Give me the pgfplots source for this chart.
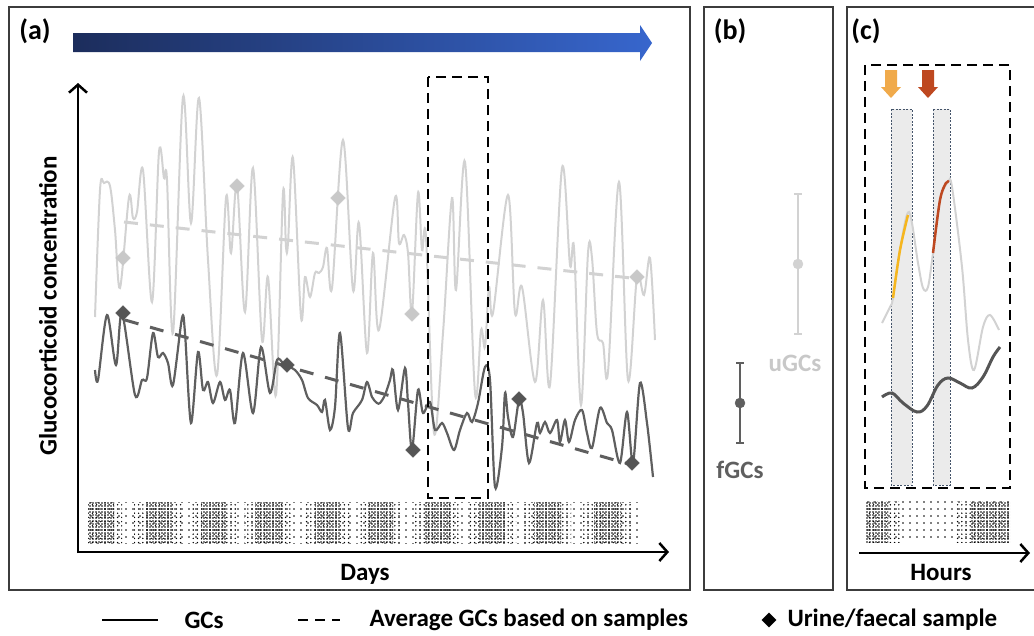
\documentclass[border=0pt]{standalone}
\usepackage{pgfplots}
\pgfplotsset{compat=1.18}
\usepackage{fontspec}
\setmainfont{Carlito}
\usetikzlibrary{patterns.meta,arrows.meta}
\definecolor{lg}{RGB}{210,210,210}
\definecolor{lgd}{RGB}{200,200,200}
\definecolor{dg}{RGB}{95,95,95}
\definecolor{dgd}{RGB}{85,85,85}
\definecolor{navyA}{RGB}{28,45,92}
\definecolor{blueB}{RGB}{55,102,205}
\definecolor{orA}{RGB}{240,170,75}
\definecolor{rdA}{RGB}{190,72,32}
\definecolor{orL}{RGB}{246,182,30}
\definecolor{frm}{RGB}{60,60,60}
\definecolor{shg}{RGB}{235,235,235}
\definecolor{slate}{RGB}{68,84,106}
\tikzset{lab/.style={font=\fontsize{25}{29}\selectfont\bfseries},
  plab/.style={font=\fontsize{28}{32}\selectfont\bfseries},
  sparse/.style={pattern={Dots[radius=0.8pt,distance=7pt]},pattern color=black},
  med/.style={pattern={Dots[radius=0.8pt,distance=4.2pt]},pattern color=black},
  dense/.style={pattern={Dots[radius=0.8pt,distance=3pt]},pattern color=black}}
\newcommand\blk[3]{\fill[#1] (axis cs:#2,502) rectangle (axis cs:#3,543);}
\begin{document}
\begin{tikzpicture}
\begin{axis}[at={(0,0)},anchor=south west,width=1034pt,height=635pt,scale only axis,
  xmin=0,xmax=1034,ymin=0,ymax=635,y dir=reverse,hide axis,clip=true]
\coordinate (SW) at (axis cs:0,635);
\coordinate (NE) at (axis cs:1034,0);
% panel frames
\draw[frm,line width=1.2pt] (axis cs:9,7) rectangle (axis cs:690,590);
\draw[frm,line width=1.2pt] (axis cs:704,7) rectangle (axis cs:833,590);
\draw[frm,line width=1.2pt] (axis cs:1034,7) -- (axis cs:847,7) -- (axis cs:847,590) -- (axis cs:1034,590);
% gradient arrow
\shade[left color=navyA,right color=blueB] (axis cs:73,33) -- (axis cs:640,33) -- (axis cs:640,25) -- (axis cs:652,43) -- (axis cs:640,61) -- (axis cs:640,52) -- (axis cs:73,52) -- cycle;
% labels
\node[plab] at (axis cs:35,31) {(a)};
\node[plab] at (axis cs:730,31) {(b)};
\node[plab] at (axis cs:866,31) {(c)};
\node[lab,rotate=90] at (axis cs:48,306) {Glucocorticoid concentration};
\node[lab] at (axis cs:365,574) {Days};
\node[lab] at (axis cs:941,572) {Hours};
% stipple bands (a)
\blk{sparse}{88}{638}
\blk{med}{88}{122}\blk{med}{134}{183}\blk{med}{192}{236}\blk{med}{244}{292}\blk{med}{304}{351}
\blk{med}{359}{402}\blk{med}{413}{461}\blk{med}{468}{516}\blk{med}{523}{571}\blk{med}{583}{631}
\blk{dense}{88}{114}\blk{dense}{145}{173}\blk{dense}{201}{227}\blk{dense}{255}{283}\blk{dense}{315}{341}
\blk{dense}{368}{393}\blk{dense}{424}{451}\blk{dense}{479}{506}\blk{dense}{534}{561}\blk{dense}{594}{621}
% stipple band (c)
\fill[sparse] (axis cs:866,501) rectangle (axis cs:1010,542);
\fill[med] (axis cs:866,501) rectangle (axis cs:900,542);
\fill[dense] (axis cs:866,501) rectangle (axis cs:888,542);
\fill[med] (axis cs:955,501) rectangle (axis cs:1010,542);
\fill[dense] (axis cs:970,501) rectangle (axis cs:1010,542);
% axes arrows
\draw[line width=2.5pt,-{Straight Barb[length=8pt,width=18pt,line width=2.5pt]}] (axis cs:78,553) -- (axis cs:78,83);
\draw[line width=2.5pt,-{Straight Barb[length=8pt,width=18pt,line width=2.5pt]}] (axis cs:77,552) -- (axis cs:669,552);
\draw[line width=2.5pt,-{Straight Barb[length=8pt,width=18pt,line width=2.5pt]}] (axis cs:859,553) -- (axis cs:1030,553);
% light GCs (a)
\addplot[lg,line width=2pt,smooth,tension=0.55] coordinates {
(95,317)(100,190)(104,183)(110,186)(115,230)(120,288)(129,197)(133,218)(137,212)(143,170)(152,302)(159,152)(164,178)(167,180)(173,333)(183,97)(191,223)(199,98)(208,260)(217,375)(226,198)(231,253)(237,185)(245,312)(253,168)(262,340)(268,277)(276,395)(283,193)(286,247)(288,243)(293,158)(301,317)(305,277)(310,297)(315,273)(319,273)(323,267)(327,248)(332,288)(343,140)(353,290)(359,223)(367,353)(373,253)(379,330)(395,198)(399,243)(404,235)(408,253)(412,313)(418,193)(422,250)(426,237)(434,433)(443,333)(452,198)(456,290)(465,162)(475,393)(481,330)(485,347)(489,287)(493,313)(508,195)(515,313)(522,287)(535,382)(543,300)(550,385)(562,168)(570,265)(574,248)(581,405)(588,253)(592,258)(597,333)(603,343)(608,372)(619,182)(628,380)(637,277)(644,295)(650,258)(655,340)};
% dark GCs (a)
\addplot[dg,line width=2.2pt,smooth,tension=0.5] coordinates {
(95,370)(98,380)(107,315)(116,365)(122,313)(135,395)(142,380)(147,378)(153,333)(158,357)(163,353)(168,363)(173,385)(182,318)(185,333)(191,423)(198,352)(203,390)(208,382)(213,403)(220,382)(225,400)(230,390)(235,423)(243,353)(253,413)(261,347)(270,393)(277,360)(283,363)(288,366)(295,370)(302,380)(308,398)(317,405)(322,412)(325,400)(330,430)(335,407)(340,333)(348,428)(353,413)(362,400)(367,382)(372,397)(377,403)(380,403)(385,395)(390,380)(393,370)(398,410)(405,368)(408,403)(412,450)(418,390)(423,413)(430,402)(435,430)(442,423)(447,433)(454,450)(460,430)(467,413)(472,422)(478,403)(485,367)(490,380)(495,487)(502,447)(505,393)(508,417)(513,437)(519,400)(523,413)(529,463)(537,423)(540,433)(545,422)(550,433)(557,420)(560,442)(565,420)(569,442)(575,420)(582,410)(587,433)(592,448)(600,408)(607,423)(612,430)(620,463)(627,412)(633,463)(640,383)(647,423)(653,477)};
% averages
\addplot[lg,line width=3pt,dash pattern=on 14pt off 12pt] coordinates {(124,222)(640,279)};
\addplot[dg,line width=3pt,dash pattern=on 14pt off 12pt] coordinates {(125,320)(632,465)};
% samples
\addplot[only marks,mark=square*,mark size=5.2pt,mark options={rotate=45,fill=lgd,draw=lgd}] coordinates {(123,258)(237,186)(338,198)(412,314)(637,277)};
\addplot[only marks,mark=square*,mark size=5.2pt,mark options={rotate=45,fill=dgd,draw=dgd}] coordinates {(123,313)(287,365)(413,450)(519,399)(632,463)};
% dashed box (a)
\draw[black,line width=2.5pt,dash pattern=on 10pt off 6pt] (axis cs:428,77) rectangle (axis cs:488,498);
% panel (b)
\addplot[lg,line width=2.5pt] coordinates {(798,194)(798,334)};
\addplot[lg,line width=2.5pt] coordinates {(794,194)(802,194)};
\addplot[lg,line width=2.5pt] coordinates {(794,334)(802,334)};
\addplot[only marks,mark=*,mark size=5pt,mark options={fill=lg,draw=lg}] coordinates {(798,264)};
\addplot[dg,line width=2.5pt] coordinates {(740,363)(740,443)};
\addplot[dg,line width=2.5pt] coordinates {(736,363)(744,363)};
\addplot[dg,line width=2.5pt] coordinates {(736,443)(744,443)};
\addplot[only marks,mark=*,mark size=5pt,mark options={fill=dg,draw=dg}] coordinates {(740,403)};
\node[lab,text=lgd] at (axis cs:795,363) {uGCs};
\node[lab,text=dg] at (axis cs:740,470) {fGCs};
% panel (c)
\fill[shg] (axis cs:891,109) rectangle (axis cs:912,485);
\fill[shg] (axis cs:933,109) rectangle (axis cs:950,485);
\draw[slate,line width=0.9pt,dash pattern=on 2pt off 1.5pt] (axis cs:891,109) rectangle (axis cs:912,485);
\draw[slate,line width=0.9pt,dash pattern=on 2pt off 1.5pt] (axis cs:933,109) rectangle (axis cs:950,485);
\fill[orA] (axis cs:885,70) -- (axis cs:897,70) -- (axis cs:897,87) -- (axis cs:901,87) -- (axis cs:891,98) -- (axis cs:881,87) -- (axis cs:885,87) -- cycle;
\fill[rdA] (axis cs:922,70) -- (axis cs:934,70) -- (axis cs:934,87) -- (axis cs:938,87) -- (axis cs:928,98) -- (axis cs:918,87) -- (axis cs:922,87) -- cycle;
\addplot[lg,line width=2pt,smooth,tension=0.55] coordinates {(882,323)(890,307)(893,298)(900,250)(909,212)(918,263)(923,288)(928,287)(933,253)(940,200)(948,182)(952,187)(962,267)(968,340)(974,370)(983,327)(990,315)(999,330)};
\addplot[orL,line width=2.5pt,smooth,tension=0.55] coordinates {(893,298)(900,250)(908,215)};
\addplot[rdA,line width=2.5pt,smooth,tension=0.55] coordinates {(933,253)(940,200)(946,183)(949,182)};
\addplot[dgd,line width=3pt,smooth,tension=0.6] coordinates {(882,397)(892,393)(903,403)(917,412)(927,406)(938,385)(948,378)(960,383)(972,388)(983,377)(993,357)(1000,347)};
\draw[black,line width=2.5pt,dash pattern=on 10pt off 6pt] (axis cs:865,65) rectangle (axis cs:1010,488);
% legend
\draw[black,line width=2pt] (axis cs:102,620) -- (axis cs:158,620);
\node[lab,anchor=west] at (axis cs:181,620) {GCs};
\draw[black,line width=2pt,dash pattern=on 10pt off 7pt] (axis cs:298,620) -- (axis cs:340,620);
\node[lab,anchor=west] at (axis cs:366,620) {Average GCs based on samples};
\addplot[only marks,mark=square*,mark size=5pt,mark options={rotate=45,fill=black,draw=black}] coordinates {(769,620)};
\node[lab,anchor=west] at (axis cs:784,620) {Urine/faecal sample};
\end{axis}
\pgfresetboundingbox
\useasboundingbox (SW) rectangle (NE);
\end{tikzpicture}
\end{document}
